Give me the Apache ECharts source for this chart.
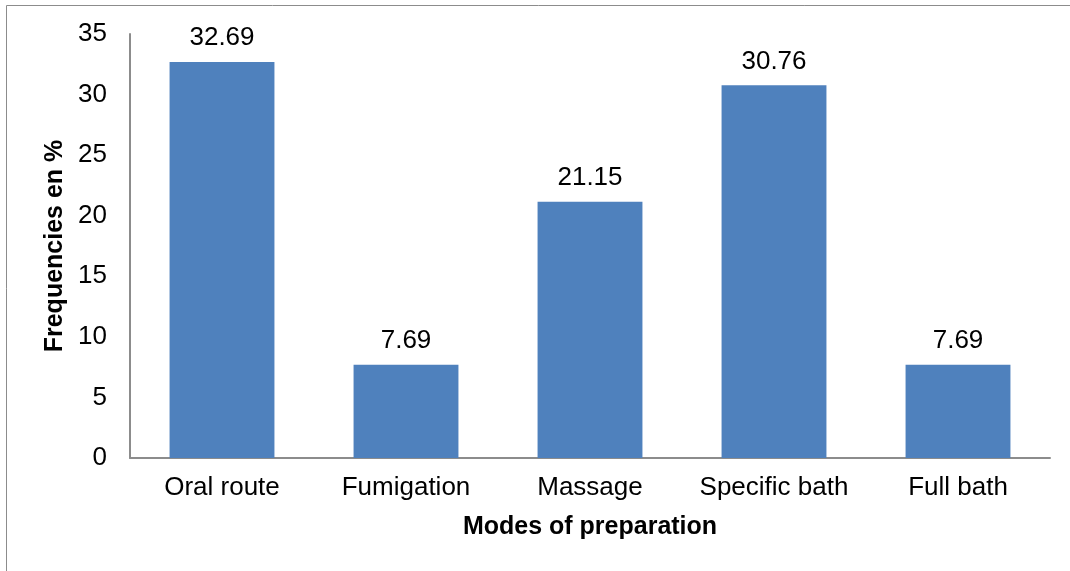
<!DOCTYPE html>
<html>
<head>
<meta charset="utf-8">
<script src="https://cdn.jsdelivr.net/npm/echarts@6/dist/echarts.min.js"></script>
<style>
	html, body { margin: 0; padding: 0; background: #fff; }
	#main { width: 1070px; height: 571px; }
</style>
</head>
<body>
<div id="main"></div>
<script>
const modes = ["Oral route", "Fumigation", "Massage", "Specific bath", "Full bath"];
const frequencies = [32.69, 7.69, 21.15, 30.76, 7.69];
const yTicks = [0, 5, 10, 15, 20, 25, 30, 35];

const font = "Liberation Sans, Arial, sans-serif";

let myChart = echarts.init(document.getElementById("main"));

let options = {
	animation: false,
	textStyle: { fontFamily: font },
	grid: { left: 130, right: 20, top: 34, bottom: 113 },
	graphic: [
		{
			type: "polyline",
			shape: { points: [[6.5, 571], [6.5, 5.5], [1070, 5.5]] },
			style: { stroke: "#8c8c8c", lineWidth: 1, fill: null },
		},
	],
	xAxis: {
		type: "category",
		data: modes,
		name: "Modes of preparation",
		nameLocation: "middle",
		nameGap: 57,
		nameTextStyle: { fontFamily: font, fontSize: 25, fontWeight: "bold", color: "#000" },
		axisLine: { lineStyle: { color: "#8c8c8c", width: 2 } },
		axisTick: { show: false },
		axisLabel: { interval: 0, fontFamily: font, fontSize: 26, color: "#000", margin: 17 },
	},
	yAxis: {
		type: "value",
		min: yTicks[0],
		max: yTicks[yTicks.length - 1],
		interval: 5,
		name: "Frequencies en %",
		nameLocation: "middle",
		nameGap: 60,
		nameRotate: 90,
		nameTextStyle: { fontFamily: font, fontSize: 25, fontWeight: "bold", color: "#000" },
		axisLine: { show: true, lineStyle: { color: "#8c8c8c", width: 2 } },
		axisTick: { show: false },
		splitLine: { show: false },
		axisLabel: { fontFamily: font, fontSize: 26, color: "#000", margin: 23 },
	},
	series: [
		{
			name: "Frequency",
			type: "bar",
			data: frequencies,
			barWidth: "57%",
			itemStyle: { color: "#4f81bd" },
			label: {
				show: true,
				position: "top",
				distance: 11,
				fontFamily: font,
				fontSize: 26,
				color: "#000",
				formatter: (p) => p.value.toFixed(2),
			},
		},
	],
};

myChart.setOption(options);
</script>
</body>
</html>
